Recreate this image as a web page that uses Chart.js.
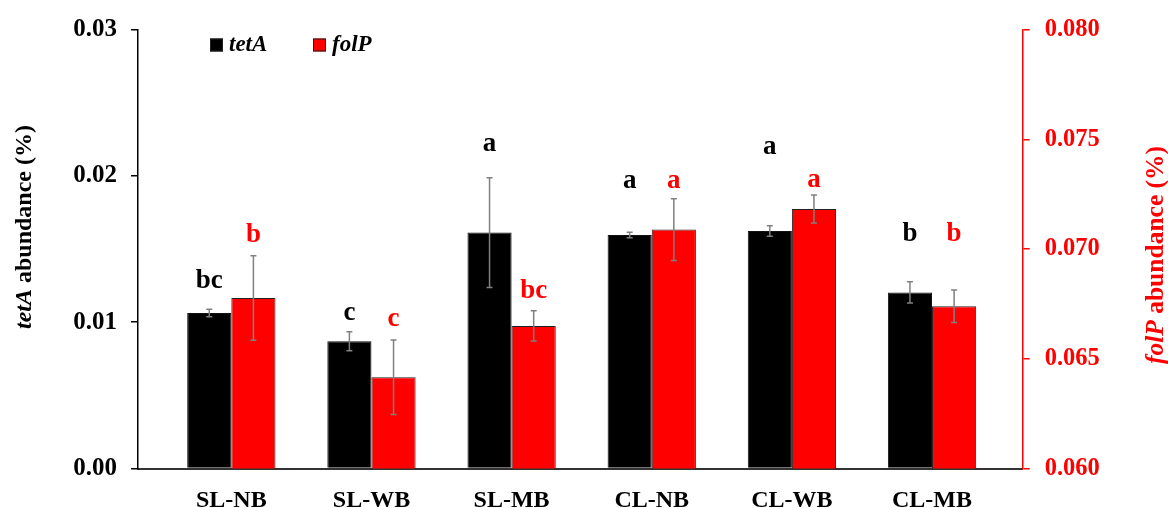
<!DOCTYPE html>
<html>
<head>
<meta charset="utf-8">
<script src="https://cdn.jsdelivr.net/npm/chart.js@4/dist/chart.umd.min.js"></script>
<style>
  html, body { margin: 0; padding: 0; background: #fff; }
  #wrap { width: 1168px; height: 508px; }
</style>
</head>
<body>
<div id="wrap"><canvas id="abundanceChart" width="1168" height="508"></canvas></div>
<script>
// Data
const categories = ['SL-NB', 'SL-WB', 'SL-MB', 'CL-NB', 'CL-WB', 'CL-MB'];

const tetA = [0.01063, 0.0087, 0.01613, 0.01597, 0.01624, 0.01204];
const tetAErr = [0.00026, 0.00065, 0.00375, 0.00019, 0.00036, 0.00072];
const tetALetters = ['bc', 'c', 'a', 'a', 'a', 'b'];

const folP = [0.06777, 0.06416, 0.0665, 0.07089, 0.07183, 0.0674];
const folPErr = [0.00193, 0.0017, 0.00069, 0.00141, 0.00064, 0.00074];
const folPLetters = ['b', 'c', 'bc', 'a', 'a', 'b'];

const leftTicks = [0, 0.01, 0.02, 0.03];
const rightTicks = [0.060, 0.065, 0.070, 0.075, 0.080];

// where the significance letters sit (in each axis' own units)
const tetALetterAt = [0.01285, 0.0106, 0.02217, 0.01965, 0.0220, 0.0160];
const folPLetterAt = [0.07062, 0.06681, 0.06809, 0.07312, 0.07315, 0.0707];

const SERIF = '"Liberation Serif", "Times New Roman", serif';
const RED = '#ff0000';

// error bars + letters on top of the bars
const barExtras = {
  id: 'barExtras',
  afterDatasetsDraw(chart) {
    const ctx = chart.ctx;
    const sets = [
      { err: tetAErr, letters: tetALetters, at: tetALetterAt, color: '#000' },
      { err: folPErr, letters: folPLetters, at: folPLetterAt, color: RED }
    ];
    sets.forEach((s, di) => {
      const meta = chart.getDatasetMeta(di);
      const yScale = chart.scales[meta.yAxisID];
      const vals = chart.data.datasets[di].data;
      meta.data.forEach((bar, i) => {
        const v = vals[i].y;
        const top = yScale.getPixelForValue(v + s.err[i]);
        const bot = yScale.getPixelForValue(v - s.err[i]);
        ctx.save();
        ctx.strokeStyle = '#808080';
        ctx.lineWidth = 1.5;
        ctx.beginPath();
        ctx.moveTo(bar.x, top); ctx.lineTo(bar.x, bot);
        ctx.moveTo(bar.x - 3, top); ctx.lineTo(bar.x + 3, top);
        ctx.moveTo(bar.x - 3, bot); ctx.lineTo(bar.x + 3, bot);
        ctx.stroke();
        // letters
        ctx.fillStyle = s.color;
        ctx.font = 'bold 27px ' + SERIF;
        ctx.textAlign = 'center';
        ctx.textBaseline = 'middle';
        ctx.fillText(s.letters[i], bar.x, yScale.getPixelForValue(s.at[i]));
        ctx.restore();
      });
    });
  }
};

// legend + axis titles with mixed italic text
function mixedText(ctx, parts, cx, cy) {
  let total = 0;
  parts.forEach(p => { ctx.font = p.font; p.w = ctx.measureText(p.text).width; total += p.w; });
  let x = cx - total / 2;
  parts.forEach(p => {
    ctx.font = p.font;
    ctx.fillText(p.text, x, cy);
    x += p.w;
  });
}

const decorations = {
  id: 'decorations',
  afterDraw(chart) {
    const ctx = chart.ctx;
    const area = chart.chartArea;
    ctx.save();
    ctx.textBaseline = 'middle';
    ctx.textAlign = 'left';

    // legend
    const items = [
      { label: 'tetA', color: '#000', x: area.left + 72 },
      { label: 'folP', color: RED, x: area.left + 175 }
    ];
    items.forEach(it => {
      ctx.fillStyle = it.color;
      ctx.fillRect(it.x, 38.5, 13, 13);
      ctx.strokeStyle = '#222';
      ctx.lineWidth = 1;
      ctx.strokeRect(it.x + 0.5, 39, 12, 12);
      ctx.fillStyle = '#000';
      ctx.font = 'italic bold 23px ' + SERIF;
      ctx.fillText(it.label, it.x + 19, 45);
    });

    // left axis title
    ctx.save();
    ctx.translate(25, 227);
    ctx.rotate(-Math.PI / 2);
    ctx.fillStyle = '#000';
    mixedText(ctx, [
      { text: 'tetA', font: 'italic bold 24px ' + SERIF },
      { text: ' abundance (%)', font: 'bold 24px ' + SERIF }
    ], 0, 0);
    ctx.restore();

    // right axis title
    ctx.save();
    ctx.translate(1156, 255);
    ctx.rotate(-Math.PI / 2);
    ctx.fillStyle = RED;
    mixedText(ctx, [
      { text: 'folP', font: 'italic bold 25.5px ' + SERIF },
      { text: ' abundance (%)', font: 'bold 25.5px ' + SERIF }
    ], 0, 0);
    ctx.restore();

    ctx.restore();
  }
};

new Chart(document.getElementById('abundanceChart'), {
  type: 'bar',
  data: {
    datasets: [{
      label: 'tetA',
      data: tetA.map((v, i) => ({ x: i, y: v })),
      backgroundColor: '#000',
      borderColor: '#111',
      borderWidth: 1,
      yAxisID: 'y'
    }, {
      label: 'folP',
      data: folP.map((v, i) => ({ x: i, y: v })),
      backgroundColor: RED,
      borderColor: '#222',
      borderWidth: 1,
      yAxisID: 'y1'
    }]
  },
  options: {
    responsive: false,
    animation: false,
    categoryPercentage: 0.63,
    barPercentage: 1,
    layout: { padding: { top: 28, left: 0, right: 0, bottom: 0 } },
    plugins: {
      legend: { display: false },
      tooltip: { enabled: false }
    },
    scales: {
      x: {
        type: 'linear',
        min: -0.666,
        max: 5.647,
        offset: false,
        grid: { display: false },
        border: { display: true, color: '#333', width: 2 },
        afterBuildTicks: s => { s.ticks = categories.map((c, i) => ({ value: i })); },
        afterFit: s => { s.height = 39.5; },
        ticks: {
          autoSkip: false,
          maxRotation: 0,
          padding: 10,
          color: '#000',
          font: { family: SERIF, size: 24, weight: 'bold' },
          callback: v => categories[v]
        }
      },
      y: {
        position: 'left',
        min: 0,
        max: 0.03,
        grid: { drawOnChartArea: false, drawTicks: true, tickLength: 7, color: '#000', lineWidth: 1.5 },
        border: { display: true, color: '#000', width: 1.5 },
        afterBuildTicks: s => { s.ticks = leftTicks.map(v => ({ value: v })); },
        afterFit: s => { s.width = 138; },
        ticks: {
          padding: 14,
          color: '#000',
          font: { family: SERIF, size: 25, weight: 'bold' },
          callback: v => v.toFixed(2)
        }
      },
      y1: {
        position: 'right',
        min: 0.06,
        max: 0.08,
        grid: { drawOnChartArea: false, drawTicks: true, tickLength: 7, color: RED, lineWidth: 1.5 },
        border: { display: true, color: RED, width: 1.5 },
        afterBuildTicks: s => { s.ticks = rightTicks.map(v => ({ value: v })); },
        afterFit: s => { s.width = 145.3; },
        ticks: {
          padding: 15,
          color: RED,
          font: { family: SERIF, size: 24.5, weight: 'bold' },
          callback: v => v.toFixed(3)
        }
      }
    }
  },
  plugins: [barExtras, decorations]
});
</script>
</body>
</html>
